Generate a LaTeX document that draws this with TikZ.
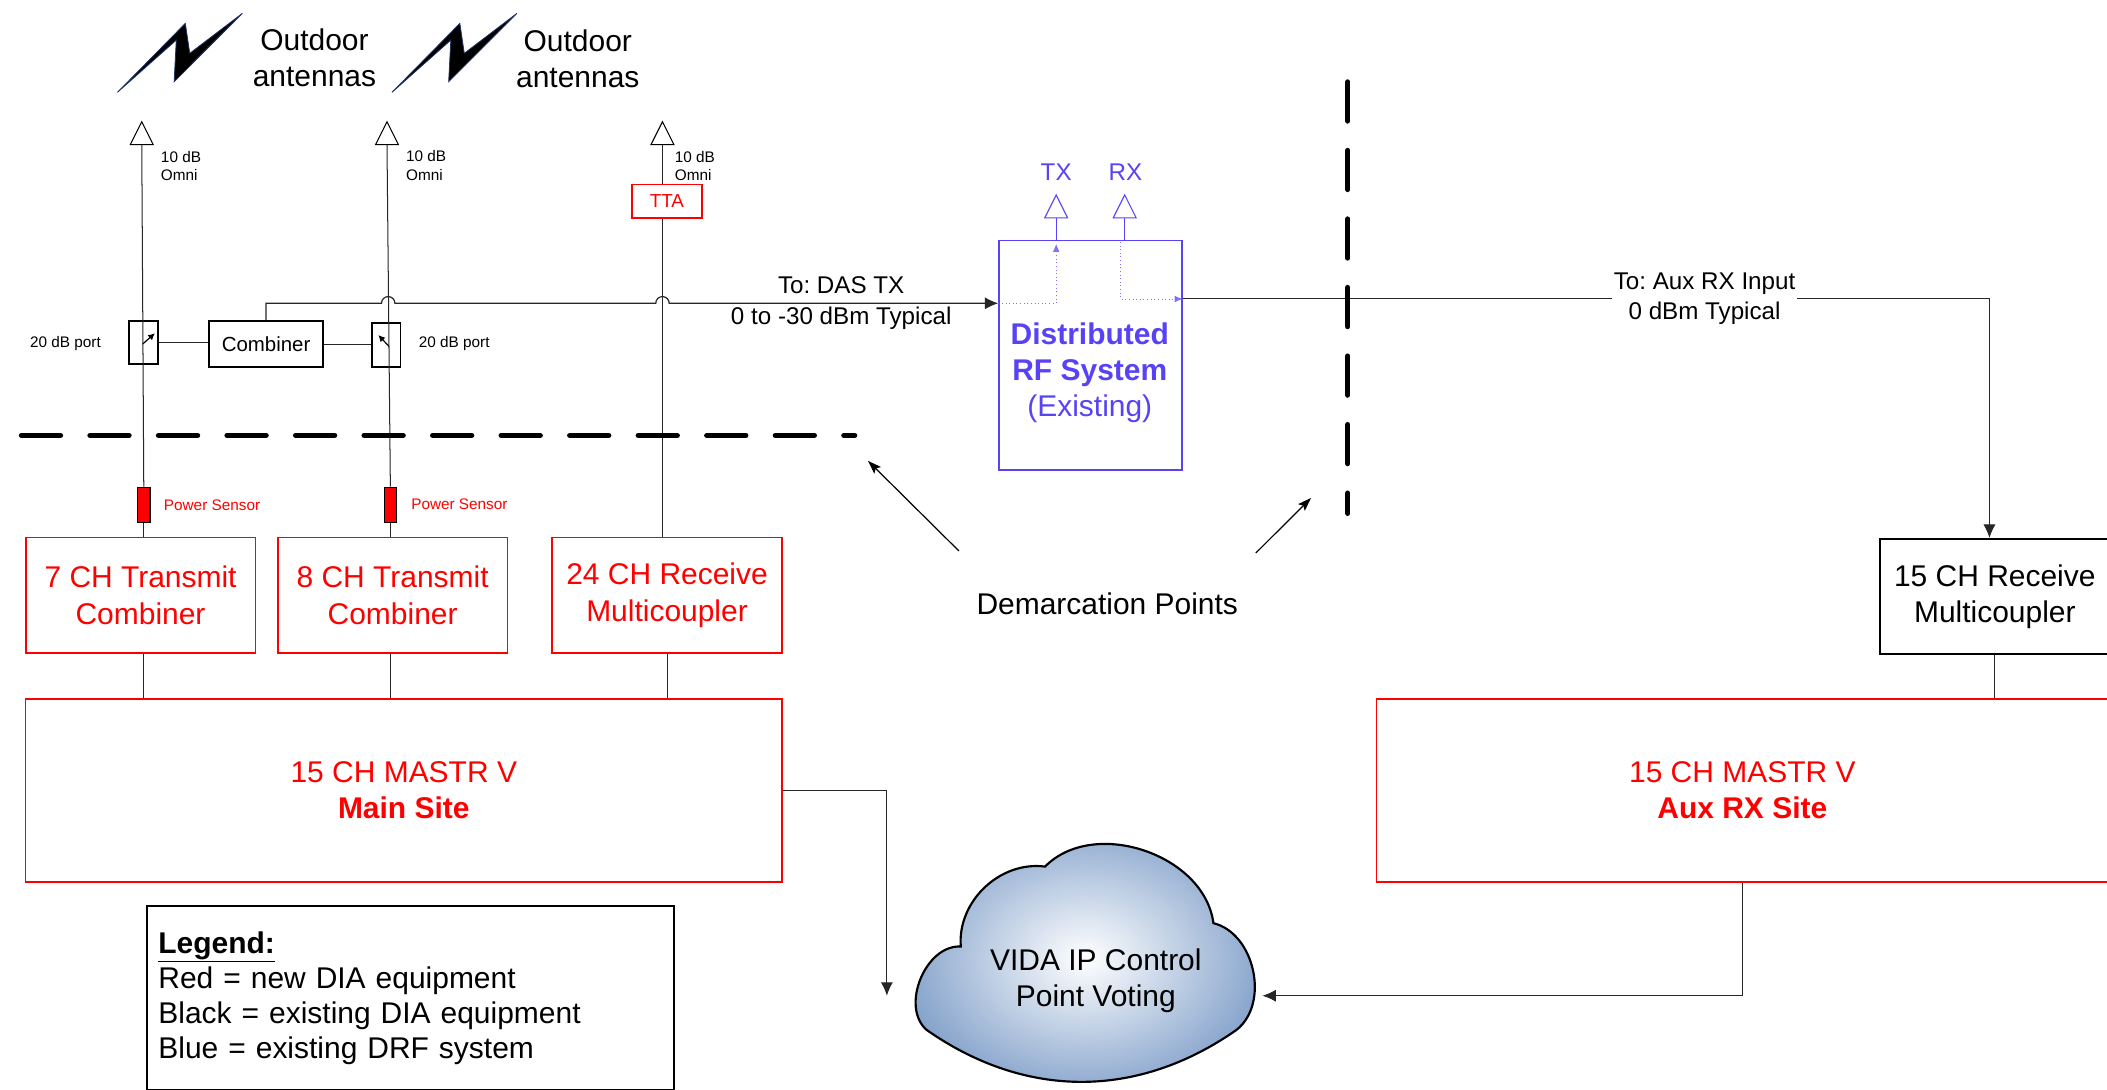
\documentclass[tikz,border=0pt]{standalone}
\usepackage{fontspec}
\setmainfont{Liberation Sans}
\usetikzlibrary{arrows.meta,shapes.geometric}
\frenchspacing
\definecolor{newred}{RGB}{255,0,0}
\definecolor{drfblue}{RGB}{88,66,245}
\definecolor{cloudblue}{RGB}{132,162,203}
\definecolor{boltnavy}{RGB}{30,50,100}
\def\boltpath{(87.4,68.7) -- (137.9,17.4) -- (141.2,39.7) -- (180.4,9.9) -- (129.6,60.8) -- (131.2,29.8) -- cycle}
\newcommand\bigtxt{\fontsize{22.3}{27}\selectfont}
\newcommand\midtxt{\fontsize{18}{22.5}\selectfont}
\newcommand\combtxt{\fontsize{15.2}{18}\selectfont}
\newcommand\ttatxt{\fontsize{14}{17}\selectfont}
\newcommand\smalltxt{\fontsize{11.4}{13.7}\selectfont}
\tikzset{
  wire/.style={draw=black!85, line width=0.75pt},
  arrowed/.style={-{Latex[length=10pt,width=9pt]}},
  newbox/.style={draw=newred, line width=1.4pt, text=newred, font=\bigtxt, align=center, inner sep=0pt},
  oldbox/.style={draw=black, line width=1.4pt, font=\bigtxt, align=center, inner sep=0pt},
  antenna/.style={draw, fill=white, line width=0.8pt, isosceles triangle, isosceles triangle stretches,
    shape border rotate=90, minimum width=17pt, minimum height=17pt, inner sep=0pt, anchor=south},
  coupler/.style={draw, line width=1.4pt, minimum width=21.5pt, minimum height=32pt, inner sep=0pt},
  sensor/.style={draw, fill=newred, line width=1pt, minimum width=9pt, minimum height=26pt, inner sep=0pt},
  lbl/.style={inner sep=0pt, anchor=west, align=left},
  demarc/.style={line width=4pt, line cap=round, dash pattern=on 29pt off 22pt},
  cplarrow/.style={line width=0.9pt, -{Latex[length=5pt,width=5pt]}},
  drfpath/.style={drfblue!75, dotted, line width=0.7pt, -{Latex[length=6pt,width=5pt]}},
  pointer/.style={line width=0.9pt, -{Stealth[length=10pt,width=7pt,inset=2pt]}}
}
\begin{document}
\begin{tikzpicture}[x=1pt,y=-1pt]
\useasboundingbox (0,0) rectangle (1568,811);

\draw[fill=black, draw=boltnavy, line width=0.6pt] \boltpath;
\draw[fill=black, draw=boltnavy, line width=0.6pt, xshift=204.3pt] \boltpath;
\node[font=\bigtxt, align=center] (out1) at (234,43) {Outdoor\\antennas};
\node[font=\bigtxt, align=center] (out2) at (430,44) {Outdoor\\antennas};

\node[antenna] (ant1) at (105.5,108) {};
\node[antenna] (ant2) at (288,108) {};
\node[antenna] (ant3) at (493,108) {};
\node[lbl, font=\smalltxt] (omni1) at (119.6,123.4) {10 dB\\Omni};
\node[lbl, font=\smalltxt] (omni2) at (302,123.2) {10 dB\\Omni};
\node[lbl, font=\smalltxt] (omni3) at (502,123.4) {10 dB\\Omni};
\node[newbox, font=\ttatxt, line width=1.2pt, minimum width=52pt, minimum height=25pt] (tta) at (496.3,149.8) {TTA};

\node[coupler] (cpl1) at (106.8,255) {};
\node[coupler, minimum width=21pt, minimum height=32.5pt] (cpl2) at (287.5,256.7) {};
\node[oldbox, font=\combtxt, minimum width=85pt, minimum height=34pt] (comb) at (198,256) {Combiner};
\node[font=\smalltxt, inner sep=0pt] (port1) at (48.7,255.6) {20 dB port};
\node[font=\smalltxt, inner sep=0pt] (port2) at (338,255.3) {20 dB port};
\draw[cplarrow] ([shift={(-0.6,1)}]cpl1.center) -- ([shift={(8.5,-7)}]cpl1.center);
\draw[cplarrow] ([shift={(2.2,1.3)}]cpl2.center) -- ([shift={(-6,-7.4)}]cpl2.center);

\node[sensor] (ps1) at (107,375.6) {};
\node[sensor] (ps2) at (290.5,375.6) {};
\node[lbl, font=\smalltxt, text=newred] (ps1lbl) at (121.8,376.3) {Power Sensor};
\node[lbl, font=\smalltxt, text=newred] (ps2lbl) at (305.9,375) {Power Sensor};

\node[newbox, minimum width=171pt, minimum height=86pt] (c7) at (104.6,443) {7 CH Transmit\\Combiner};
\node[newbox, minimum width=171pt, minimum height=86pt] (c8) at (292.2,443) {8 CH Transmit\\Combiner};
\node[newbox, minimum width=171pt, minimum height=86pt] (c24) at (496.4,443) {24 CH Receive\\Multicoupler};
\node[newbox, minimum width=563pt, minimum height=136.5pt] (main) at (300.5,588.2) {15 CH MASTR V\\\textbf{Main Site}};

\draw[wire] (ant1.south) -- (ps1.north);
\draw[wire] (ant2.south) -- (ps2.north);
\draw[wire] (ant3.south) -- (ant3.south |- tta.north);
\draw[wire] (ant3.south |- tta.south) -- (ant3.south |- c24.north);
\draw[wire] (ps1.south) -- (ps1.south |- c7.north);
\draw[wire] (ps2.south) -- (ps2.south |- c8.north);
\draw[wire] (ps1 |- c7.south) -- (ps1 |- main.north);
\draw[wire] (ps2 |- c8.south) -- (ps2 |- main.north);
\draw[wire] (c24.south) -- (c24.south |- main.north);
\draw[wire] (cpl1.east) -- (comb.west |- cpl1.east);
\draw[wire] (comb.east) -- (comb.east -| cpl2.west);

\node[draw=drfblue, line width=1.2pt, minimum width=136pt, minimum height=170.7pt] (drf) at (811.5,264.3) {};
\node[font=\bigtxt, text=drfblue, align=center] (drftxt) at (811,277.3) {\textbf{Distributed}\\\textbf{RF System}\\(Existing)};
\node[antenna, draw=drfblue] (txant) at (786,162.5) {};
\node[antenna, draw=drfblue] (rxant) at (837,162.5) {};
\node[font=\midtxt, text=drfblue] (txl) at (786,127.8) {TX};
\node[font=\midtxt, text=drfblue] (rxl) at (837.6,127.8) {RX};
\draw[drfblue, line width=0.8pt] (txant.south) -- (txant.south |- drf.north);
\draw[drfblue, line width=0.8pt] (rxant.south) -- (rxant.south |- drf.north);

\coordinate (hopA) at (283.9,225.7);
\coordinate (hopB) at (488,225.7);
\coordinate (outy) at (0,222.5);
\coordinate (txin) at (786,181.5);
\coordinate (rxin) at (834,180);
\draw[wire, arrowed, line width=0.9pt] (comb.north) |- (hopA) arc[start angle=180, end angle=0, radius=5pt]
  -- (hopB) arc[start angle=180, end angle=0, radius=5pt] -- (hopB -| drf.west);
\draw[drfpath] (hopB -| drf.west) -| (txin);
\draw[drfpath] (rxin) |- (drf.east |- outy);
\node[font=\midtxt, align=center] (daslbl) at (626,225.5) {To: DAS TX\\0 to -30 dBm Typical};

\node[oldbox, minimum width=171pt, minimum height=86pt] (rx15) at (1484.5,444) {15 CH Receive\\Multicoupler};
\node[newbox, minimum width=544.4pt, minimum height=136.7pt] (aux) at (1296.6,588.3) {15 CH MASTR V\\\textbf{Aux RX Site}};
\draw[wire, arrowed] (drf.east |- outy) -| ([xshift=-4pt]rx15.north);
\node[font=\midtxt, align=center, fill=white, inner sep=1pt] (auxlbl) at (1268.5,222) {To: Aux RX Input\\0 dBm Typical};
\draw[wire] (rx15.south) -- (rx15.south |- aux.north);

\draw[demarc] (16,324) -- (636,324);
\draw[demarc] (1003,61) -- (1003,382);
\node[font=\bigtxt] (dem) at (824,449.5) {Demarcation Points};
\coordinate (dmLtail) at (713.6,410);
\coordinate (dmLhead) at (646,343);
\coordinate (dmRtail) at (934.6,411.5);
\coordinate (dmRhead) at (975.6,370.6);
\draw[pointer] (dmLtail) -- (dmLhead);
\draw[pointer] (dmRtail) -- (dmRhead);

\coordinate (ce) at (689.5,766.4);
\coordinate (ca) at (715,704.4);
\coordinate (cb) at (777.7,644.9);
\coordinate (cc) at (903,687);
\coordinate (cd) at (920.2,766.4);
\shadedraw[line width=1.6pt, shading=radial, inner color=white, outer color=cloudblue]
  (ce) to[bend left=71] (ca) to[bend left=51] (cb) to[bend left=64] (cc)
  to[bend left=64] (cd) to[bend left=35] (ce) -- cycle;
\node[font=\bigtxt, align=center] (vida) at (815.5,730) {VIDA IP Control\\Point Voting};
\coordinate (vidaL) at (660,741);
\coordinate (vidaR) at (939.5,741);
\draw[wire, arrowed] (main.east) -| (vidaL);
\draw[wire, arrowed] (aux.south) |- (vidaR);

\node[draw, line width=1.2pt, anchor=north west, minimum width=392.4pt, minimum height=137pt, text width=375pt,
  inner xsep=8.5pt, align=left, font=\fontsize{22.3}{26}\selectfont] (legend) at (108.6,673.5)
  {\textbf{\underline{Legend:}}\\Red = new DIA equipment\\Black = existing DIA equipment\\Blue = existing DRF system};
\end{tikzpicture}
\end{document}
